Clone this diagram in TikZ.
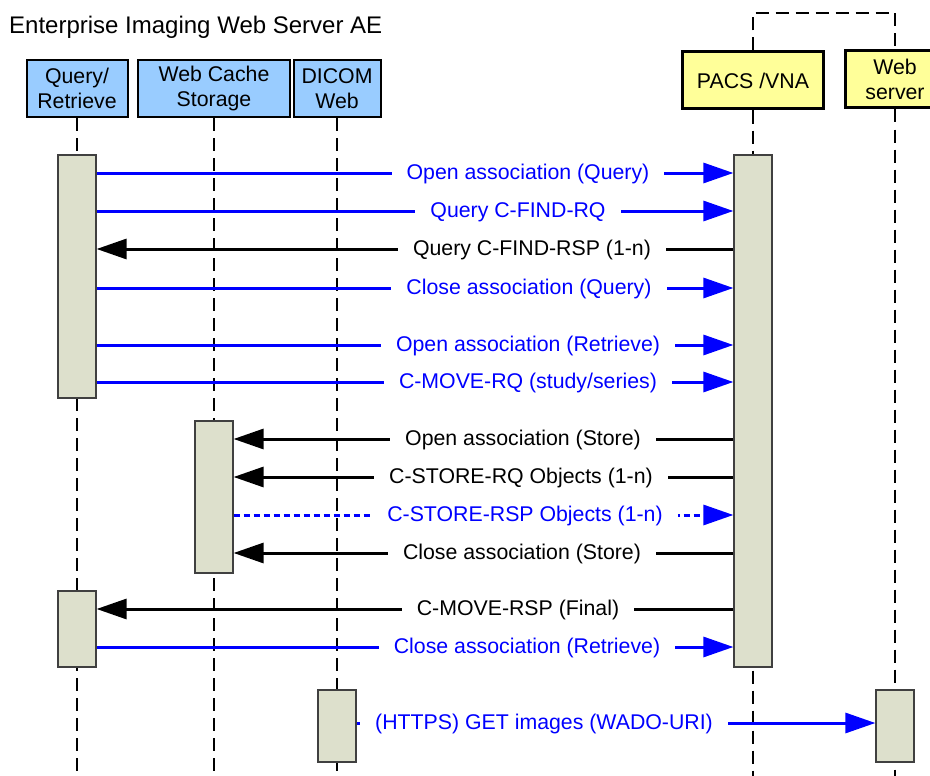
\documentclass[tikz,border=0pt]{standalone}
\usepackage{fontspec}
\setmainfont{Liberation Sans}
\usepackage{tikz}
\usetikzlibrary{arrows.meta}
\usetikzlibrary{calc}
\usetikzlibrary{positioning}

\definecolor{aeblue}{RGB}{153,204,255}
\definecolor{remoteyellow}{RGB}{255,255,153}
\definecolor{barfill}{RGB}{221,224,204}
\definecolor{msgblue}{RGB}{0,0,255}

\begin{document}
\begin{tikzpicture}[
        x=1pt, y=-1pt,
        every node/.style={font=\fontsize{21.3}{25.5}\selectfont},
        aebox/.style={draw, line width=2pt, fill=aeblue, minimum width=#1,
        minimum height=57pt, align=center, inner sep=0pt},
        remotebox/.style={draw, line width=3pt, fill=remoteyellow, minimum width=#1,
        minimum height=57pt, align=center, inner sep=0pt},
        lifeline/.style={line width=2pt, dash pattern=on 13pt off 7pt},
        activation/.style={draw=black!75, line width=1.2pt, fill=barfill,
        minimum width=38pt, minimum height=#1, inner sep=0pt},
        req/.style={line width=3pt, draw=msgblue, -{Triangle[length=30pt, width=20pt]}},
        rsp/.style={line width=3pt, draw=black, -{Triangle[length=30pt, width=20pt]}},
        rspdot/.style={req, dash pattern=on 6pt off 4pt},
        reqtext/.style={fill=white, text=msgblue, inner xsep=15pt, inner ysep=1pt},
        rsptext/.style={fill=white, text=black, inner xsep=15pt, inner ysep=1pt}
        ]
        \useasboundingbox (0,0) rectangle (930,776);
        \coordinate (top) at (0,13);
        \coordinate (bottom) at (0,776);

        % title and entities
        \node[anchor=base west, inner sep=0pt, font=\fontsize{24}{28}\selectfont] (title) at (9,34)
            {Enterprise Imaging Web Server AE};
        \node[aebox=101pt] (qr) at (77,88.5) {Query/\\Retrieve};
        \node[aebox=152pt] (wcs) at (214,88.5) {Web Cache\\Storage};
        \node[aebox=87pt] (dw) at (337,88.5) {DICOM\\Web};
        \node[remotebox=141pt] (pacs) at (753,80.5) {PACS /VNA};
        \node[remotebox=100pt] (web) at (895,79.5) {Web\\server};

        % lifelines
        \draw[lifeline] (qr.south) -- (qr.south |- bottom);
        \draw[lifeline] (wcs.south) -- (wcs.south |- bottom);
        \draw[lifeline] (dw.south) -- (dw.south |- bottom);
        \draw[lifeline] (pacs.south) -- (pacs.south |- bottom);
        \draw[lifeline] (web.south) -- (web.south |- bottom);
        \draw[lifeline] (pacs.north) -- (pacs.north |- top) -| (web.north);

        % activations
        \node[activation=243pt] (qrA) at (qr |- 0,276.5) {};
        \node[activation=76pt] (qrB) at (qr |- 0,629) {};
        \node[activation=152pt] (wcsA) at (wcs |- 0,497) {};
        \node[activation=72pt] (dwA) at (dw |- 0,726) {};
        \node[activation=512pt] (pacsA) at (pacs |- 0,411) {};
        \node[activation=72pt] (webA) at (web |- 0,726) {};

        % query
        \draw[req] (qrA.east |- 0,173) -- (pacsA.west |- 0,173)
            node[reqtext] (m1) at (528,174) {Open association (Query)};
        \draw[req] (qrA.east |- 0,211) -- (pacsA.west |- 0,211)
            node[reqtext] (m2) at (518,212) {Query C-FIND-RQ};
        \draw[rsp] (pacsA.west |- 0,249) -- (qrA.east |- 0,249)
            node[rsptext] (m3) at (532,250) {Query C-FIND-RSP (1-n)};
        \draw[req] (qrA.east |- 0,288) -- (pacsA.west |- 0,288)
            node[reqtext] (m4) at (529,289) {Close association (Query)};

        % retrieve
        \draw[req] (qrA.east |- 0,345) -- (pacsA.west |- 0,345)
            node[reqtext] (m5) at (528,346) {Open association (Retrieve)};
        \draw[req] (qrA.east |- 0,382) -- (pacsA.west |- 0,382)
            node[reqtext] (m6) at (528,383) {C-MOVE-RQ (study/series)};

        % store
        \draw[rsp] (pacsA.west |- 0,439) -- (wcsA.east |- 0,439)
            node[rsptext] (m7) at (523,440) {Open association (Store)};
        \draw[rsp] (pacsA.west |- 0,477) -- (wcsA.east |- 0,477)
            node[rsptext] (m8) at (521,478) {C-STORE-RQ Objects (1-n)};
        \draw[rspdot] (wcsA.east |- 0,515) -- (pacsA.west |- 0,515)
            node[reqtext] (m9) at (525,516) {C-STORE-RSP Objects (1-n)};
        \draw[rsp] (pacsA.west |- 0,553) -- (wcsA.east |- 0,553)
            node[rsptext] (m10) at (522,554) {Close association (Store)};

        \draw[rsp] (pacsA.west |- 0,609) -- (qrB.east |- 0,609)
            node[rsptext] (m11) at (518,610) {C-MOVE-RSP (Final)};
        \draw[req] (qrB.east |- 0,647) -- (pacsA.west |- 0,647)
            node[reqtext] (m12) at (527,648) {Close association (Retrieve)};

        % web access
        \draw[req] (dwA.east |- 0,723) -- (webA.west |- 0,723)
            node[reqtext] (m13) at (544,724) {(HTTPS) GET images (WADO-URI)};
\end{tikzpicture}
\end{document}
